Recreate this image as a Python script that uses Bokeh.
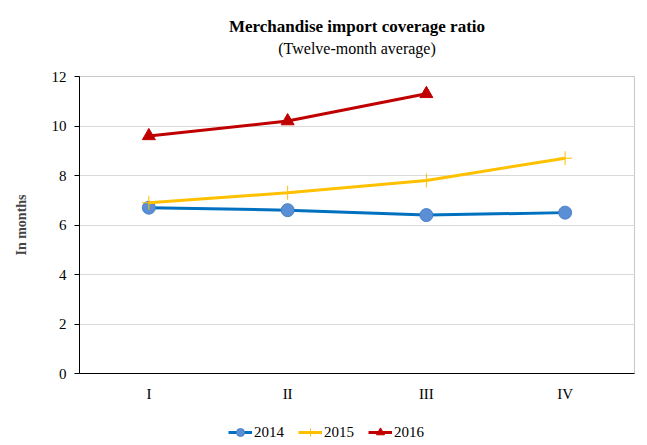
from bokeh.plotting import figure
from bokeh.layouts import column
from bokeh.models import (Legend, LegendItem, ColumnDataSource, SingleIntervalTicker,
                          CategoricalAxis)
from bokeh.embed import file_html
from bokeh.resources import INLINE

quarters = ["I", "II", "III", "IV"]
y2014 = [6.7, 6.6, 6.4, 6.5]
y2015 = [6.9, 7.3, 7.8, 8.7]
q2016 = ["I", "II", "III"]
y2016 = [9.6, 10.2, 11.3]
series_names = ["2014", "2015", "2016"]
title_text = "Merchandise import coverage ratio"
subtitle_text = "(Twelve-month average)"

FONT = "Liberation Serif"
C14, C14F, C15, C16 = "#0070c0", "#5b8fd5", "#ffc000", "#c00000"

p = figure(x_range=quarters, y_range=(0, 12), frame_width=555, frame_height=297,
           output_backend="svg", toolbar_location=None,
           min_border_left=79, min_border_right=5, min_border_top=76, min_border_bottom=40)

p.title.text = title_text
p.title.align = "center"
p.title.text_font = FONT
p.title.text_font_size = "17px"
p.title.text_font_style = "bold"
p.title.text_color = "black"
p.title.standoff = 2

sub_axis = CategoricalAxis(axis_label=subtitle_text, axis_label_text_font=FONT,
                           axis_label_text_font_size="16px", axis_label_text_font_style="normal",
                           axis_label_text_color="black", axis_label_standoff=20,
                           axis_line_color=None, major_tick_line_color=None,
                           major_tick_in=0, major_tick_out=0,
                           major_label_text_font_size="0px", major_label_standoff=0)
p.add_layout(sub_axis, "above")

p.outline_line_color = "#c8c8c8"
p.xgrid.grid_line_color = None
p.ygrid.grid_line_color = "#d9d9d9"
p.yaxis.ticker = SingleIntervalTicker(interval=2)
p.yaxis.minor_tick_line_color = None
p.yaxis.axis_line_color = "black"
p.yaxis.major_tick_line_color = "black"
p.yaxis.major_tick_in = 0
p.yaxis.major_tick_out = 5
p.yaxis.major_label_standoff = 8
p.yaxis.axis_label = "In months"
p.yaxis.axis_label_text_font = FONT
p.yaxis.axis_label_text_font_style = "bold"
p.yaxis.axis_label_text_font_size = "14px"
p.yaxis.axis_label_standoff = 20
p.below[0].major_tick_line_color = None
p.below[0].major_tick_out = 0
p.below[0].axis_line_color = "black"
p.below[0].major_label_standoff = 12
for ax in (p.below[0], p.yaxis[0]):
    ax.major_label_text_font = FONT
    ax.major_label_text_font_size = "15px"
    ax.major_label_text_color = "black"

s14 = ColumnDataSource(dict(x=quarters, y=y2014))
s15 = ColumnDataSource(dict(x=quarters, y=y2015))
s16 = ColumnDataSource(dict(x=q2016, y=y2016))


def draw(fig, src):
    r = []
    r.append(fig.line("x", "y", source=src[0], line_color=C14, line_width=3))
    r.append(fig.scatter("x", "y", source=src[0], marker="circle", size=13, fill_color=C14F,
                         line_color="#4a7fc8", line_width=1))
    r.append(fig.line("x", "y", source=src[1], line_color=C15, line_width=3))
    r.append(fig.scatter("x", "y", source=src[1], marker="cross", size=14, line_color=C15,
                         line_width=1))
    r.append(fig.line("x", "y", source=src[2], line_color=C16, line_width=3))
    r.append(fig.scatter("x", "y", source=src[2], marker="triangle", size=13, fill_color=C16,
                         line_color=C16))
    return r


draw(p, [s14, s15, s16])

# legend strip below the chart: same series, y range chosen so nothing shows but the legend
lg = figure(x_range=quarters, y_range=(100, 101), width=639, height=32,
            output_backend="svg", toolbar_location=None,
            x_axis_location=None, y_axis_location=None,
            min_border_left=0, min_border_right=0, min_border_top=0, min_border_bottom=0)
lg.outline_line_color = None
lg.grid.grid_line_color = None
lr = draw(lg, [s14, s15, s16])
legend = Legend(items=[LegendItem(label=series_names[i], renderers=[lr[2 * i], lr[2 * i + 1]])
                       for i in range(3)],
                orientation="horizontal", location=(149, 3),
                label_text_font=FONT, label_text_font_size="15px", label_text_color="black",
                border_line_color=None, background_fill_alpha=0,
                glyph_width=24, label_standoff=2, spacing=14, padding=0, margin=0)
lg.add_layout(legend)

layout = column(p, lg, spacing=0)
open("out.html", "w").write(file_html(layout, INLINE))
